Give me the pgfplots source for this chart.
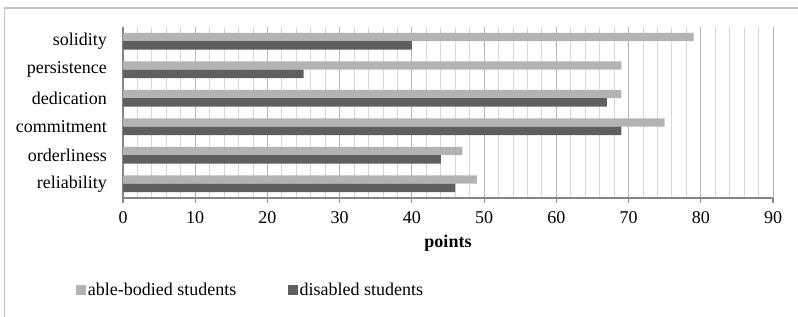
\documentclass[border=0pt]{standalone}
\usepackage{fontspec}
\setmainfont{Liberation Serif}
\usepackage{pgfplots}
\pgfplotsset{compat=1.18}
\definecolor{lightbar}{HTML}{B3B3B3}
\definecolor{darkbar}{HTML}{5F5F5F}
\definecolor{framec}{HTML}{C4C4C4}
\definecolor{axisc}{HTML}{868686}
\definecolor{majgrid}{HTML}{B4B4B4}
\definecolor{mingrid}{HTML}{D6D6D6}
\begin{document}
\begin{tikzpicture}
\begin{axis}[
  at={(92.25pt,89.25pt)}, anchor=south west,
  scale only axis, width=487.5pt, height=128.25pt,
  xmin=0, xmax=90, ymin=-0.5, ymax=5.5,
  axis x line*=bottom, axis y line*=left,
  axis line style={axisc, line width=0.8pt},
  xtick={0,10,...,90},
  minor x tick num=4,
  xmajorgrids, xminorgrids,
  major grid style={majgrid, line width=0.6pt},
  minor grid style={mingrid, line width=0.6pt},
  ytick={0,...,5},
  yticklabels={reliability,orderliness,commitment,dedication,persistence,solidity},
  minor ytick={-0.5,0.5,...,5.5},
  tick align=outside,
  major x tick style={axisc, line width=0.8pt},
  major tick length=3.5pt,
  minor tick length=0pt,
  major y tick style={draw=none},
  extra y ticks={-0.5,0.5,1.5,2.5,3.5,4.5,5.5},
  extra y tick labels={},
  extra y tick style={major tick length=4pt, tick style={axisc, line width=0.8pt}, grid=none},
  /pgf/number format/assume math mode=true,
  tick label style={font=\fontsize{13.5}{16}\selectfont},
  yticklabel style={xshift=-5pt},
  xticklabel style={yshift=-3pt},
  xlabel={\textbf{points}},
  xlabel style={font=\fontsize{13.5}{16}\selectfont, yshift=-2pt},
  legend columns=2,
  legend style={at={(-0.072,-0.538)}, anchor=west, draw=none, inner sep=0pt,
    font=\fontsize{13.5}{16}\selectfont,
    /tikz/every even column/.append style={column sep=38pt},
    nodes={inner xsep=1pt}},
  legend image code/.code={\fill[#1] (0pt,-3.75pt) rectangle (7.5pt,3.75pt);},
]
\addplot[xbar, bar width=6.3pt, bar shift=3.15pt, fill=lightbar, draw=none]
  coordinates {(49,0) (47,1) (75,2) (69,3) (69,4) (79,5)};
\addlegendentry{able-bodied students}
\addplot[xbar, bar width=6.3pt, bar shift=-3.15pt, fill=darkbar, draw=none]
  coordinates {(46,0) (44,1) (69,2) (67,3) (25,4) (40,5)};
\addlegendentry{disabled students}
\end{axis}
\pgfresetboundingbox
\useasboundingbox (0,0) rectangle (598.5pt,237.75pt);
\draw[framec, line width=1.1pt] (3.3pt,0pt) -- (3.3pt,231.75pt) -- (598.5pt,231.75pt);
\end{tikzpicture}
\end{document}
